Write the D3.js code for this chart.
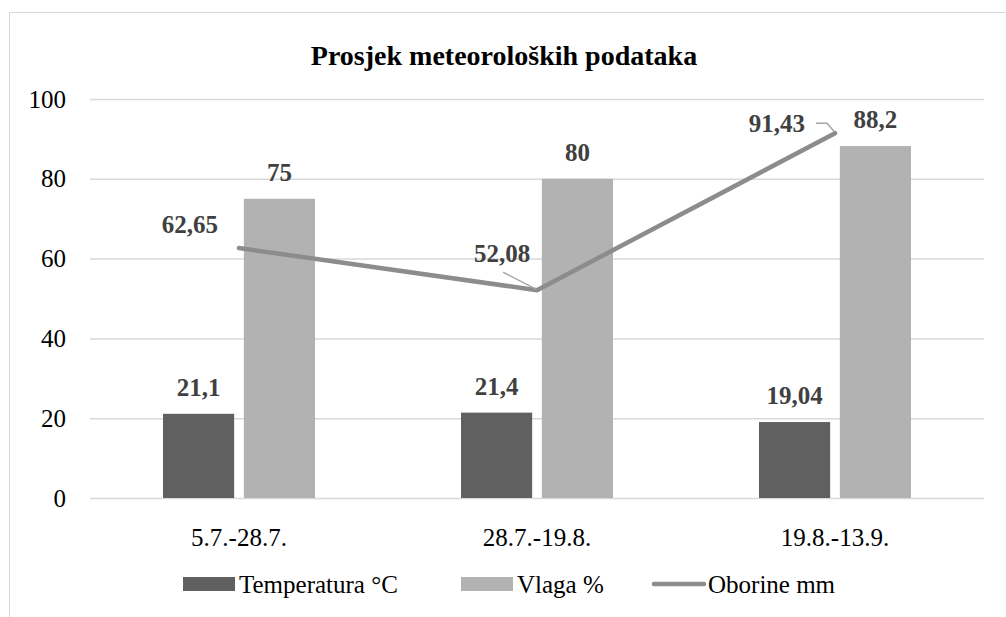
<!DOCTYPE html>
<html>
<head>
<meta charset="utf-8">
<script src="https://cdn.jsdelivr.net/npm/d3@7"></script>
<style>
  body { margin: 0; background: #fff; }
</style>
</head>
<body>
<script>
// data
const categories = ["5.7.-28.7.", "28.7.-19.8.", "19.8.-13.9."];
const temperatura = [21.1, 21.4, 19.04];
const vlaga = [75, 80, 88.2];
const oborine = [62.65, 52.08, 91.43];
const yTicks = [0, 20, 40, 60, 80, 100];
const seriesNames = ["Temperatura °C", "Vlaga %", "Oborine mm"];

const fmt = v => String(v).replace(".", ",");
const serifFont = "'Liberation Serif', 'Times New Roman', Tinos, serif";
const fontSize = 25;

const width = 1006, height = 617;
const margin = { top: 99, left: 90, right: 22, bottom: 119 };

const svg = d3.select("body").append("svg")
  .attr("width", width)
  .attr("height", height)
  .style("font-family", serifFont);

// chart frame (cut off at right and bottom like the reference)
svg.append("rect")
  .attr("x", 9.5).attr("y", 12.5)
  .attr("width", 1200).attr("height", 800)
  .attr("fill", "#fff")
  .attr("stroke", "#d9d9d9");

svg.append("text")
  .attr("x", 504).attr("y", 65)
  .attr("text-anchor", "middle")
  .style("font-family", serifFont)
  .attr("font-size", 28).attr("font-weight", "bold")
  .attr("fill", "#000")
  .text("Prosjek meteoroloških podataka");

const x = d3.scaleBand()
  .domain(categories)
  .range([margin.left, width - margin.right]);

const y = d3.scaleLinear()
  .domain([0, 100])
  .range([height - margin.bottom, margin.top]);

const x1 = d3.scaleBand()
  .domain(["t", "v"])
  .range([0, 152])
  .paddingInner(0.12);

// grid
svg.append("g").selectAll("line").data(yTicks).enter().append("line")
  .attr("x1", margin.left).attr("x2", width - margin.right)
  .attr("y1", d => y(d) + 0.5).attr("y2", d => y(d) + 0.5)
  .attr("stroke", "#d9d9d9").attr("stroke-width", 1.5);

// y axis labels
const yAxis = svg.append("g")
  .attr("transform", `translate(66,0)`)
  .call(d3.axisLeft(y).tickValues(yTicks).tickSize(0).tickPadding(0));
yAxis.attr("font-family", null).attr("font-size", null);
yAxis.select(".domain").remove();
yAxis.selectAll("text")
  .style("font-family", serifFont).attr("font-size", fontSize).attr("fill", "#000");

// x axis labels
const xAxis = svg.append("g")
  .attr("transform", `translate(0,${y(0)})`)
  .call(d3.axisBottom(x).tickSize(0).tickPadding(30));
xAxis.attr("font-family", null).attr("font-size", null);
xAxis.select(".domain").remove();
xAxis.selectAll("text")
  .style("font-family", serifFont).attr("font-size", fontSize).attr("fill", "#000");

const groupStart = c => x(c) + x.bandwidth() / 2 - 76;

// bars
const bars = [
  { key: "t", vals: temperatura, color: "#606060" },
  { key: "v", vals: vlaga, color: "#b2b2b2" }
];
bars.forEach(s => {
  svg.append("g").selectAll("rect").data(categories).enter().append("rect")
    .attr("x", (c) => groupStart(c) + x1(s.key))
    .attr("y", (c, i) => y(s.vals[i]))
    .attr("width", x1.bandwidth())
    .attr("height", (c, i) => y(0) - y(s.vals[i]))
    .attr("fill", s.color);
  svg.append("g").selectAll("text").data(categories).enter().append("text")
    .attr("x", (c) => groupStart(c) + x1(s.key) + x1.bandwidth() / 2)
    .attr("y", (c, i) => y(s.vals[i]) - 18)
    .attr("text-anchor", "middle")
    .style("font-family", serifFont)
    .attr("font-size", fontSize).attr("font-weight", "bold")
    .attr("fill", "#404040")
    .text((c, i) => fmt(s.vals[i]));
});

// line
const cx = c => x(c) + x.bandwidth() / 2;
const line = d3.line()
  .x((d, i) => cx(categories[i]))
  .y(d => y(d));
svg.append("path")
  .datum(oborine)
  .attr("d", line)
  .attr("fill", "none")
  .attr("stroke", "#8c8c8c")
  .attr("stroke-width", 4.5)
  .attr("stroke-linecap", "round")
  .attr("stroke-linejoin", "round");

// line labels, with leader lines
const lineLabelPos = [
  { dx: -21, dy: -15, anchor: "end" },
  { dx: -35, dy: -28, anchor: "middle" },
  { dx: -30, dy: -1, anchor: "end" }
];
oborine.forEach((v, i) => {
  const px = cx(categories[i]), py = y(v), p = lineLabelPos[i];
  svg.append("text")
    .attr("x", px + p.dx).attr("y", py + p.dy)
    .attr("text-anchor", p.anchor)
    .style("font-family", serifFont)
    .attr("font-size", fontSize).attr("font-weight", "bold")
    .attr("fill", "#404040")
    .text(fmt(v));
});
svg.append("path")
  .attr("d", `M${cx(categories[1]) - 34},${y(oborine[1]) - 18}L${cx(categories[1]) - 1},${y(oborine[1]) - 1}`)
  .attr("fill", "none").attr("stroke", "#a6a6a6").attr("stroke-width", 1.5);
svg.append("path")
  .attr("d", `M${cx(categories[2]) - 19},${y(oborine[2]) - 10}L${cx(categories[2]) - 8},${y(oborine[2]) - 10}L${cx(categories[2]) - 1},${y(oborine[2]) - 2}`)
  .attr("fill", "none").attr("stroke", "#a6a6a6").attr("stroke-width", 1.5);

// legend
const legend = svg.append("g");
const legX = [183, 461, 652];
const legColors = ["#606060", "#b2b2b2", "#8c8c8c"];
seriesNames.forEach((name, i) => {
  if (i < 2) {
    legend.append("rect")
      .attr("x", legX[i]).attr("y", 577)
      .attr("width", 52).attr("height", 14)
      .attr("fill", legColors[i]);
  } else {
    legend.append("line")
      .attr("x1", legX[i] + 2).attr("x2", legX[i] + 52)
      .attr("y1", 584).attr("y2", 584)
      .attr("stroke", legColors[i]).attr("stroke-width", 4.5)
      .attr("stroke-linecap", "round");
  }
  legend.append("text")
    .attr("x", legX[i] + 56).attr("y", 593)
    .style("font-family", serifFont)
    .attr("font-size", fontSize).attr("fill", "#000")
    .text(name);
});
</script>
</body>
</html>
